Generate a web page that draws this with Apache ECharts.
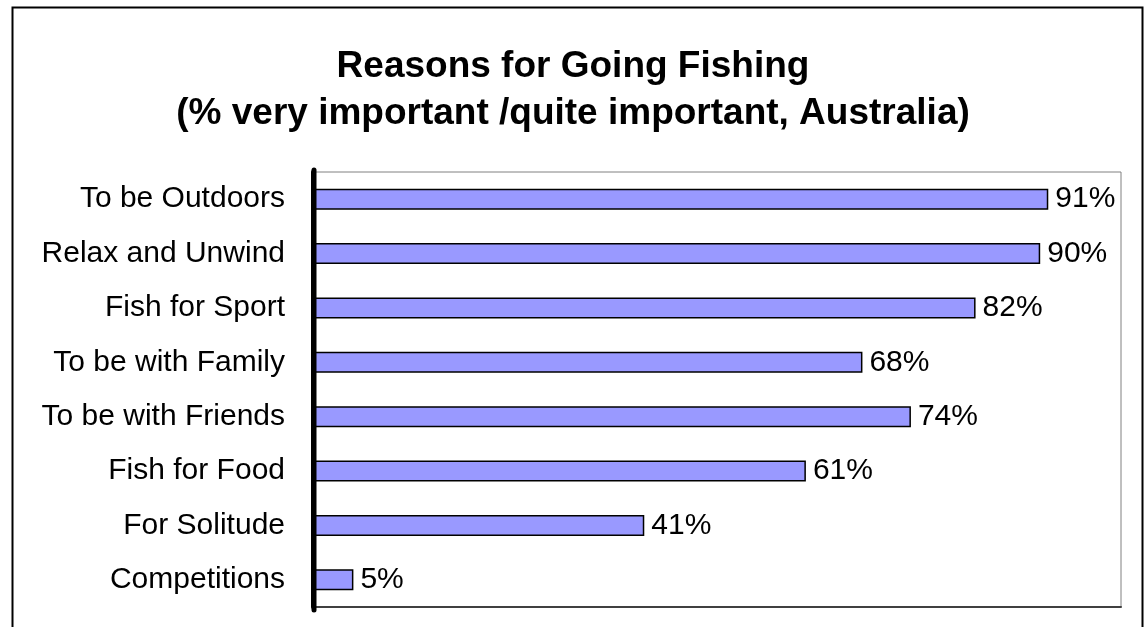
<!DOCTYPE html>
<html>
<head>
<meta charset="utf-8">
<script src="https://cdn.jsdelivr.net/npm/echarts@6/dist/echarts.min.js"></script>
<style>html,body{margin:0;padding:0;background:#fff}#c{width:1146px;height:627px}</style>
</head>
<body>
<div id="c"></div>
<script>
const titleLines = ['Reasons for Going Fishing', '(% very important /quite important, Australia)'];
const categories = ['To be Outdoors', 'Relax and Unwind', 'Fish for Sport', 'To be with Family', 'To be with Friends', 'Fish for Food', 'For Solitude', 'Competitions'];
const values = [91, 90, 82, 68, 74, 61, 41, 5];

const chart = echarts.init(document.getElementById('c'));
chart.setOption({
  animation: false,
  backgroundColor: '#fff',
  title: {
    text: titleLines.join('\n'),
    left: 'center',
    top: 38,
    textStyle: { fontFamily: 'Liberation Sans, Arial', fontWeight: 'bold', fontSize: 37, lineHeight: 47, color: '#000' }
  },
  graphic: [{
    type: 'rect', left: 10, top: 5,
    shape: { width: 1130, height: 640 },
    style: { fill: 'none', stroke: '#000', lineWidth: 2 }, silent: true, z: -1
  }, {
    type: 'line', silent: true, z: 10,
    shape: { x1: 314, y1: 170, x2: 314, y2: 610 },
    style: { stroke: '#000', lineWidth: 5, lineCap: 'round' }
  }],
  grid: { left: 313, top: 172, right: 25, bottom: 20, show: true, borderColor: '#808080', borderWidth: 1 },
  xAxis: {
    type: 'value', min: 0, max: 100,
    axisLabel: { show: false }, splitLine: { show: false }, axisTick: { show: false },
    axisLine: { show: true, lineStyle: { color: '#404040', width: 2 } }
  },
  yAxis: {
    type: 'category', data: categories, inverse: true,
    axisTick: { show: false },
    axisLine: { show: true, lineStyle: { color: '#000', width: 4 } },
    axisLabel: { fontFamily: 'Liberation Sans, Arial', fontSize: 30, color: '#000', margin: 28 }
  },
  series: [{
    type: 'bar', data: values, barWidth: 21,
    itemStyle: { color: '#9999FF', borderColor: '#000', borderWidth: 1.5 },
    label: { show: true, position: 'right', distance: 7, formatter: '{c}%', fontFamily: 'Liberation Sans, Arial', fontSize: 30, color: '#000' }
  }]
});
</script>
</body>
</html>
